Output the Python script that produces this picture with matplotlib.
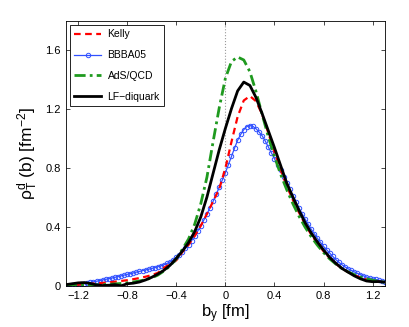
import numpy as np
import matplotlib
matplotlib.use("Agg")
import matplotlib.pyplot as plt

plt.rcParams['font.family'] = ['Liberation Sans', 'DejaVu Sans']
plt.rcParams['mathtext.fontset'] = 'custom'
plt.rcParams['mathtext.rm'] = 'Liberation Sans'
plt.rcParams['mathtext.it'] = 'Liberation Sans'

# grid of b_y values (fm)
b_y = np.round(np.arange(-1.3, 1.3001, 0.05), 3)
b_y_fine = np.round(np.arange(-1.3, 1.3001, 0.025), 3)

kelly = [0.004, 0.007,
         0.010, 0.013,
         0.016, 0.019,
         0.022, 0.026,
         0.030, 0.035,
         0.040, 0.047,
         0.055, 0.064,
         0.075, 0.090,
         0.125, 0.150,
         0.175, 0.232,
         0.280, 0.340,
         0.410, 0.490,
         0.575, 0.660,
         0.800, 0.980,
         1.150, 1.260,
         1.290, 1.255,
         1.165, 1.040,
         0.910, 0.790,
         0.680, 0.585,
         0.500, 0.420,
         0.350, 0.290,
         0.237, 0.190,
         0.152, 0.120,
         0.095, 0.075,
         0.058, 0.045,
         0.036, 0.030,
         0.025]

bbba05 = [0.000, 0.002, 0.005, 0.008,
          0.010, 0.014, 0.017, 0.021,
          0.025, 0.029, 0.033, 0.038,
          0.042, 0.046, 0.051, 0.055,
          0.060, 0.065, 0.070, 0.075,
          0.080, 0.085, 0.090, 0.095,
          0.100, 0.105, 0.110, 0.115,
          0.120, 0.126, 0.132, 0.138,
          0.145, 0.154, 0.165, 0.179,
          0.195, 0.214, 0.235, 0.257,
          0.280, 0.309, 0.340, 0.374,
          0.410, 0.449, 0.490, 0.532,
          0.575, 0.622, 0.670, 0.720,
          0.770, 0.825, 0.880, 0.937,
          0.990, 1.030, 1.062, 1.083,
          1.090, 1.084, 1.068, 1.046,
          1.020, 0.985, 0.945, 0.905,
          0.865, 0.825, 0.785, 0.743,
          0.700, 0.657, 0.615, 0.572,
          0.530, 0.492, 0.455, 0.420,
          0.385, 0.355, 0.325, 0.297,
          0.270, 0.247, 0.225, 0.202,
          0.180, 0.162, 0.145, 0.131,
          0.118, 0.107, 0.097, 0.087,
          0.078, 0.070, 0.062, 0.056,
          0.050, 0.045, 0.040, 0.034,
          0.028]

ads_qcd = [0.005, 0.008,
           0.010, 0.010,
           0.009, 0.009,
           0.010, 0.012,
           0.015, 0.018,
           0.022, 0.028,
           0.035, 0.044,
           0.056, 0.075,
           0.103, 0.138,
           0.185, 0.250,
           0.320, 0.420,
           0.560, 0.740,
           0.980, 1.210,
           1.410, 1.525,
           1.555, 1.535,
           1.455, 1.320,
           1.165, 1.015,
           0.880, 0.760,
           0.655, 0.560,
           0.475, 0.400,
           0.335, 0.278,
           0.228, 0.185,
           0.150, 0.120,
           0.097, 0.078,
           0.062, 0.050,
           0.040, 0.032,
           0.026]

lf_diquark = [0.010, 0.016,
              0.022, 0.024,
              0.018, 0.008,
              0.004, 0.006,
              0.010, 0.002,
              0.016, 0.020,
              0.028, 0.042,
              0.060, 0.082,
              0.108, 0.142,
              0.188, 0.238,
              0.295, 0.370,
              0.470, 0.605,
              0.765, 0.925,
              1.070, 1.205,
              1.325, 1.385,
              1.362, 1.280,
              1.170, 1.055,
              0.940, 0.820,
              0.700, 0.605,
              0.515, 0.430,
              0.360, 0.300,
              0.245, 0.195,
              0.155, 0.120,
              0.095, 0.070,
              0.050, 0.035,
              0.030, 0.031,
              0.027]

x_ticks = [-1.2, -0.8, -0.4, 0, 0.4, 0.8, 1.2]
x_ticklabels = ['\u22121.2', '\u22120.8', '\u22120.4', '0', '0.4', '0.8', '1.2']
y_ticks = [0, 0.4, 0.8, 1.2, 1.6]
y_ticklabels = ['0', '0.4', '0.8', '1.2', '1.6']

fig = plt.figure(figsize=(4.09, 3.27), dpi=100)
ax = fig.add_axes([0.161, 0.125, 0.780, 0.811])

ax.axvline(0, color='#999999', linestyle=':', linewidth=0.8, zorder=0)
ax.plot(b_y, kelly, color='red', linestyle=(0, (3, 2)), linewidth=1.6, label='Kelly', zorder=3)
ax.plot(b_y_fine, bbba05, color='#3050ff', linewidth=0.9, marker='o', markersize=3.2,
        markerfacecolor='none', markeredgewidth=0.7, label='BBBA05', zorder=2)
ax.plot(b_y, ads_qcd, color='#1f9a1f', linestyle=(0, (4, 1.5, 1, 1.5)), linewidth=2.0,
        label='AdS/QCD', zorder=3)
ax.plot(b_y, lf_diquark, color='black', linewidth=2.0, label='LF\u2212diquark', zorder=4)

ax.set_xlim(-1.3, 1.3)
ax.set_ylim(0, 1.8)
ax.set_xticks(x_ticks)
ax.set_xticklabels(x_ticklabels)
ax.set_yticks(y_ticks)
ax.set_yticklabels(y_ticklabels)
ax.tick_params(direction='in', top=True, right=True, labelsize=8, length=3, width=0.5)
for s in ax.spines.values():
    s.set_linewidth(0.6)

ax.set_xlabel(r'b$_\mathregular{y}$ [fm]', fontsize=12, labelpad=1)
ax.set_ylabel(r'$\mathregular{\rho^d_T}$ (b) [fm$^{\mathregular{-2}}$]', fontsize=12.5, labelpad=4)

leg = ax.legend(loc='upper left', fontsize=7.5, handlelength=2.6, handletextpad=0.6,
                fancybox=False, edgecolor='black', framealpha=1, borderaxespad=0.4,
                labelspacing=1.05)
leg.get_frame().set_linewidth(0.6)

plt.savefig('out.png')
plt.close()
